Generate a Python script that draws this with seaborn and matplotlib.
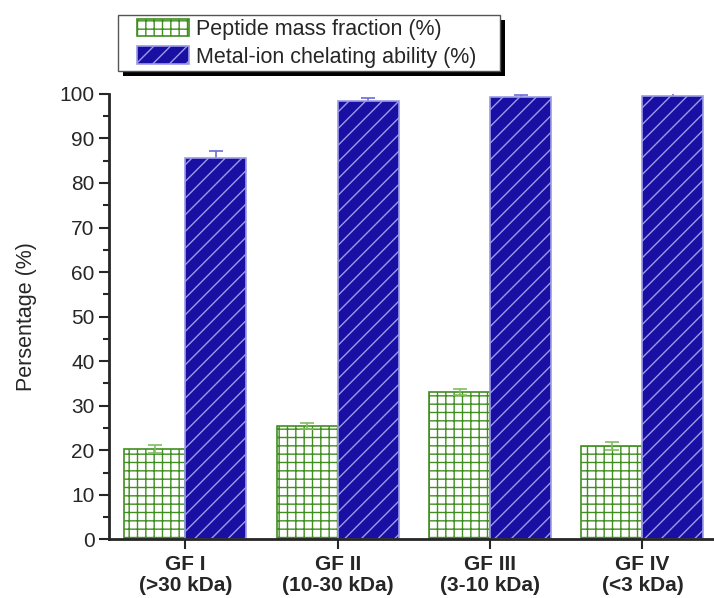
import numpy as np
import pandas as pd
import matplotlib
matplotlib.use("Agg")
import matplotlib.pyplot as plt
import seaborn as sns
from matplotlib.patches import Patch, Rectangle
from matplotlib.ticker import MultipleLocator

# data
categories = ["GF I\n(>30 kDa)", "GF II\n(10-30 kDa)", "GF III\n(3-10 kDa)", "GF IV\n(<3 kDa)"]
series = ["Peptide mass fraction (%)", "Metal-ion chelating ability (%)"]
peptide = [20.3, 25.4, 33.1, 20.9]
peptide_err = [0.8, 0.7, 0.6, 0.9]
chelating = [85.5, 98.4, 99.4, 99.5]
chelating_err = [1.7, 0.6, 0.4, 0.7]

df = pd.DataFrame({
    "Fraction": categories * 2,
    "Series": [series[0]] * 4 + [series[1]] * 4,
    "Value": peptide + chelating,
})

sns.set_style("ticks")
plt.rcParams["font.family"] = ["Liberation Sans", "DejaVu Sans"]
plt.rcParams["hatch.linewidth"] = 1.0

green = "#3f8f1f"
blue_fill = "#1a0fa3"
blue_edge = "#9b9be8"

W, H = 714, 598
fig = plt.figure(figsize=(W / 100, H / 100), dpi=100)
ax = fig.add_axes([0.153, 0.098, 0.847, 0.745])

sns.barplot(data=df, x="Fraction", y="Value", hue="Series", order=categories,
            hue_order=series, palette=["white", blue_fill], width=0.8,
            errorbar=None, legend=False, ax=ax)

# style each series: hatches and edge colours
styles = [
    dict(fc="white", ec=green, hatch="++", err=peptide_err, ecol="#7fbf5f", z=3),
    dict(fc=blue_fill, ec=blue_edge, hatch="//", err=chelating_err, ecol="#6c6cd8", z=0.5),
]
vals = [peptide, chelating]
for cont, st, v in zip(ax.containers, styles, vals):
    xs = []
    for bar in cont:
        bar.set_facecolor(st["fc"])
        bar.set_edgecolor(st["ec"])
        bar.set_hatch(st["hatch"])
        bar.set_linewidth(1.2)
        xs.append(bar.get_x() + bar.get_width() / 2)
    ax.errorbar(xs, v, yerr=st["err"], fmt="none", ecolor=st["ecol"],
                elinewidth=1.2, capsize=5, capthick=1.2, zorder=st["z"])

ax.set_ylim(0, 100)
ax.set_xlim(-0.5, 3.47)
ax.yaxis.set_major_locator(MultipleLocator(10))
ax.yaxis.set_minor_locator(MultipleLocator(5))
ax.set_ylabel("Persentage (%)", fontsize=15.5, labelpad=16)
ax.set_xlabel("")
ax.tick_params(axis="y", which="major", length=7, width=1.5, labelsize=15, direction="out")
ax.tick_params(axis="y", which="minor", length=4, width=1.5, direction="out")
ax.tick_params(axis="x", length=7, width=1.5, labelsize=15, direction="out", pad=4)
for lab in ax.get_xticklabels():
    lab.set_fontweight("bold")
    lab.set_linespacing(1.15)
for side in ["top", "right"]:
    ax.spines[side].set_visible(False)
for side in ["left", "bottom"]:
    ax.spines[side].set_linewidth(2)

handles = [
    Patch(facecolor="white", edgecolor=green, hatch="++", linewidth=1.2),
    Patch(facecolor=blue_fill, edgecolor=blue_edge, hatch="//", linewidth=1.2),
]
leg = fig.legend(handles, series, loc="upper left", bbox_to_anchor=(137 / W, 1 - 19 / H),
                 fontsize=15.5, frameon=False,
                 handlelength=2.4, handleheight=0.85, handletextpad=0.35,
                 labelspacing=0.3, borderpad=0, borderaxespad=0)
leg.set_zorder(6)

# legend box with a black drop shadow
box = (118 / W, 1 - 71 / H, 382 / W, 56 / H)
dx, dy = 5 / W, 5 / H
fig.patches.append(Rectangle((box[0] + dx, box[1] - dy), box[2], box[3],
                             transform=fig.transFigure, facecolor="black",
                             edgecolor="none", zorder=4))
fig.patches.append(Rectangle(box[:2], box[2], box[3], transform=fig.transFigure,
                             facecolor="white", edgecolor="#555555", lw=1.0, zorder=5))

fig.savefig("out.png", dpi=100)
